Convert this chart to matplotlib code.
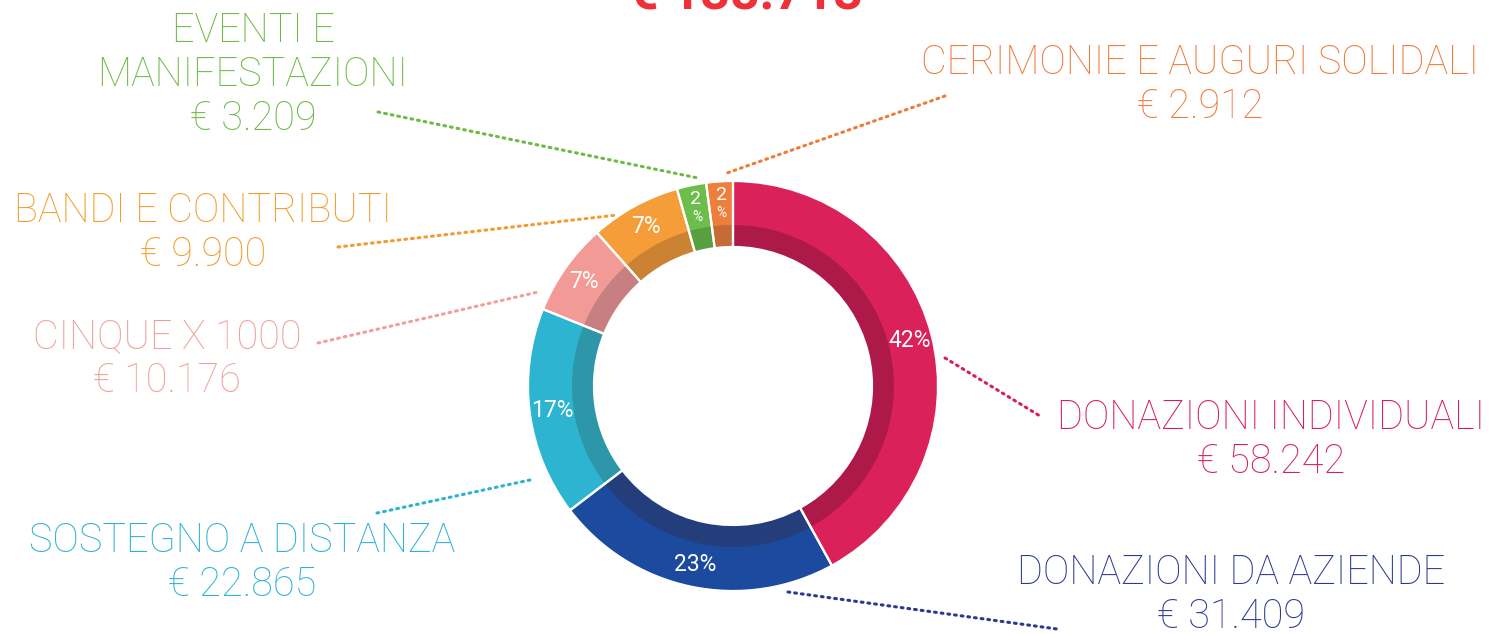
import matplotlib
matplotlib.use("Agg")
import matplotlib.pyplot as plt
import numpy as np

# ---- data ----
categories = ["DONAZIONI INDIVIDUALI", "DONAZIONI DA AZIENDE", "SOSTEGNO A DISTANZA",
              "CINQUE X 1000", "BANDI E CONTRIBUTI", "EVENTI E\nMANIFESTAZIONI",
              "CERIMONIE E AUGURI SOLIDALI"]
values = [58242, 31409, 22865, 10176, 9900, 3209, 2912]
value_labels = ["€ 58.242", "€ 31.409", "€ 22.865", "€ 10.176", "€ 9.900", "€ 3.209", "€ 2.912"]
pct_labels = ["42", "23", "17", "7", "7", "2", "2"]
total_label = "€ 138.713"

light_colors = ["#DB2159", "#1C4A9E", "#2CB4D0", "#F29B96", "#F59D38", "#6CBD4B", "#EE7E3C"]
dark_colors = ["#AD1A49", "#243D7B", "#2D96A9", "#C87F82", "#CB8233", "#58A03F", "#C66A36"]
text_colors = ["#D91F5A", "#2B3990", "#2DB3D2", "#F0A09A", "#F39C2E", "#6DBB45", "#F07A3A"]

# ---- layout (pixel coords, y from top) ----
W, H = 1493, 634
center = (733, H - 386)
r_out, r_mid, r_in = 205, 161, 139
label_pos = [(1271, 418), (1231, 573), (242, 541), (167, 337), (203, 211), (253, 31), (1200, 63)]
leader = [((945, 358), (1040, 416)),
          ((788, 592), (1057, 629)),
          ((377, 513), (530, 480)),
          ((318, 343), (538, 292)),
          ((338, 247), (617, 215)),
          ((378, 112), (698, 178)),
          ((945, 96), (727, 173))]
line_gap = 44

fig = plt.figure(figsize=(W / 100, H / 100), dpi=100)
ax = fig.add_axes([0, 0, 1, 1])

common = dict(center=center, startangle=90, counterclock=False, frame=True)
# light outer ring (full thickness)
ax.pie(values, colors=light_colors, radius=r_out,
       wedgeprops=dict(width=r_out - r_in, linewidth=0), **common)
# darker inner band
ax.pie(values, colors=dark_colors, radius=r_mid,
       wedgeprops=dict(width=r_mid - r_in, linewidth=0), **common)
# white separators
ax.pie(values, colors=["none"] * len(values), radius=r_out,
       wedgeprops=dict(width=r_out - r_in, edgecolor="white", linewidth=1.6, facecolor="none"),
       **common)

# percentage labels at slice mid-angles
total = float(sum(values))
cum = np.cumsum([0] + values[:-1]) / total
mids = cum + np.array(values) / total / 2
for m, p, v in zip(mids, pct_labels, values):
    ang = np.deg2rad(90 - 360 * m)
    if v / total < 0.04:
        for rr, s, fs in [(191, p, 14), (173, "%", 10)]:
            ax.text(center[0] + rr * np.cos(ang), center[1] + rr * np.sin(ang), s,
                    color="white", fontsize=fs, family="Roboto", ha="center", va="center")
    else:
        rr = 182
        ax.text(center[0] + rr * np.cos(ang), center[1] + rr * np.sin(ang), p + "%",
                color="white", fontsize=16.5, family="Roboto", ha="center", va="center")

# category labels
for cat, val, col, (x, y) in zip(categories, value_labels, text_colors, label_pos):
    lines = cat.split("\n") + [val]
    for i, ln in enumerate(lines):
        ax.text(x, H - (y + i * line_gap), ln, color=col, fontsize=28.5, family="Roboto",
                fontweight="light", ha="center", va="center")

# leader lines
for col, ((x0, y0), (x1, y1)) in zip(text_colors, leader):
    ax.plot([x0, x1], [H - y0, H - y1], color=col, linewidth=2.2,
            linestyle=(0, (0.6, 1.6)), dash_capstyle="round")

# total (cut at the top, as in the original)
ax.text(746, H - 9, total_label, color="#EE3138", fontsize=37, family="Roboto",
        fontweight="bold", ha="center", va="baseline")

ax.set_xlim(0, W)
ax.set_ylim(0, H)
ax.set_aspect("auto")
ax.axis("off")
fig.savefig("out.png", dpi=100, facecolor="white")
